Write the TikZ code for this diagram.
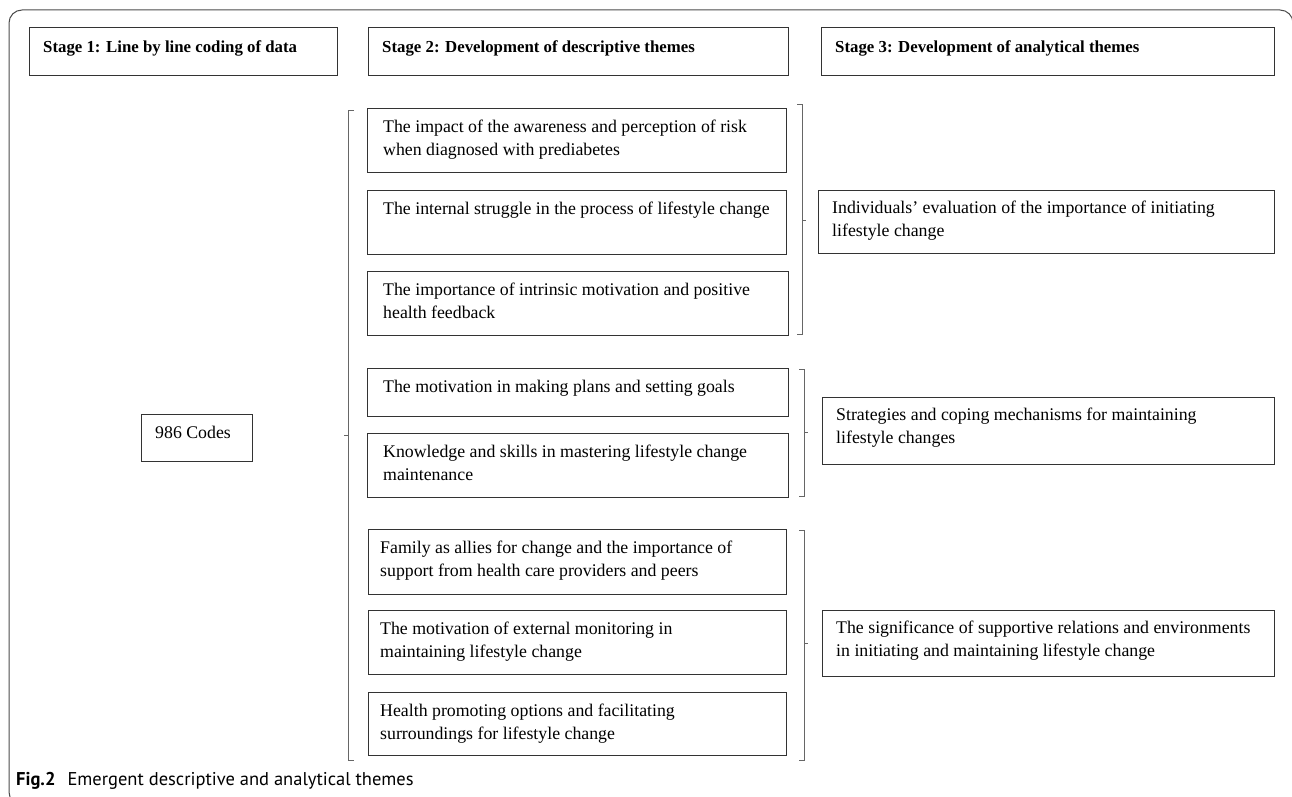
\documentclass[tikz,border=0pt]{standalone}
\usepackage{fontspec}
\setmainfont{Liberation Serif}
\newfontfamily\capfont{PT Sans}
\begin{document}
\begin{tikzpicture}[x=1pt,y=-1pt,
  box/.style={draw=black!80, line width=1.1pt, anchor=north west, inner sep=0pt},
  txt/.style={anchor=north west, inner sep=0pt, align=left, font=\fontsize{17.8}{22.5}\selectfont},
  head/.style={anchor=north west, inner sep=0pt, align=left, font=\fontsize{16.8}{20}\selectfont\bfseries},
  brk/.style={draw=black!60, line width=1pt},
  frame/.style={draw=black!70, line width=1pt, rounded corners=13pt}]
\useasboundingbox (0,0) rectangle (1292,797);
% outer frame
\draw[frame] (40,805) -- (9,805) -- (9,10) -- (1293,10) -- (1293,40);
% headers
\node[box, minimum width=308, minimum height=48] (h1) at (29,27) {};
\node[head] (h1t) at ([xshift=14pt,yshift=-13pt]h1.north west) {Stage 1: Line by line coding of data};
\node[box, minimum width=420, minimum height=48] (h2) at (368,27) {};
\node[head] (h2t) at ([xshift=14pt,yshift=-13pt]h2.north west) {Stage 2: Development of descriptive themes};
\node[box, minimum width=453, minimum height=48] (h3) at (821,27) {};
\node[head] (h3t) at ([xshift=14pt,yshift=-13pt]h3.north west) {Stage 3: Development of analytical themes};
% stage 1
\node[box, minimum width=111, minimum height=47] (c) at (141,414) {};
\node[txt] (ct) at ([xshift=14pt,yshift=-12pt]c.north west) {986 Codes};
% stage 2
\node[box, minimum width=419, minimum height=64] (b1) at (367,108) {};
\node[txt] (b1t) at ([xshift=16pt,yshift=-12pt]b1.north west) {The impact of the awareness and perception of risk\\when diagnosed with prediabetes};
\node[box, minimum width=419, minimum height=64] (b2) at (367,190) {};
\node[txt] (b2t) at ([xshift=16pt,yshift=-12pt]b2.north west) {The internal struggle in the process of lifestyle change};
\node[box, minimum width=421, minimum height=64] (b3) at (367,271) {};
\node[txt] (b3t) at ([xshift=16pt,yshift=-12pt]b3.north west) {The importance of intrinsic motivation and positive\\health feedback};
\node[box, minimum width=421, minimum height=48] (b4) at (367,368) {};
\node[txt] (b4t) at ([xshift=16pt,yshift=-12pt]b4.north west) {The motivation in making plans and setting goals};
\node[box, minimum width=421, minimum height=64] (b5) at (367,433) {};
\node[txt] (b5t) at ([xshift=16pt,yshift=-12pt]b5.north west) {Knowledge and skills in mastering lifestyle change\\maintenance};
\node[box, minimum width=418, minimum height=65] (b6) at (368,529) {};
\node[txt] (b6t) at ([xshift=12pt,yshift=-12pt]b6.north west) {Family as allies for change and the importance of\\support from health care providers and peers};
\node[box, minimum width=418, minimum height=64] (b7) at (368,610) {};
\node[txt] (b7t) at ([xshift=12pt,yshift=-12pt]b7.north west) {The motivation of external monitoring in\\maintaining lifestyle change};
\node[box, minimum width=418, minimum height=63] (b8) at (368,692) {};
\node[txt] (b8t) at ([xshift=12pt,yshift=-12pt]b8.north west) {Health promoting options and facilitating\\surroundings for lifestyle change};
% stage 3
\node[box, minimum width=456, minimum height=63] (a) at (818,190) {};
\node[txt] (at) at ([xshift=14pt,yshift=-11pt]a.north west) {Individuals’ evaluation of the importance of initiating\\lifestyle change};
\node[box, minimum width=452, minimum height=67] (s) at (822,397) {};
\node[txt] (st) at ([xshift=14pt,yshift=-11pt]s.north west) {Strategies and coping mechanisms for maintaining\\lifestyle changes};
\node[box, minimum width=452, minimum height=66] (r) at (822,610) {};
\node[txt] (rt) at ([xshift=14pt,yshift=-11pt]r.north west) {The significance of supportive relations and environments\\in initiating and maintaining lifestyle change};
% brackets
\draw[brk] (354,111) -- (348,111) -- (348,760) -- (354,760);
\draw[brk] (348,435) -- (344,435);
\draw[brk] (797,105) -- (802,105) -- (802,334) -- (797,334);
\draw[brk] (802,220) -- (806,220);
\draw[brk] (799,369) -- (804,369) -- (804,496) -- (799,496);
\draw[brk] (804,432) -- (808,432);
\draw[brk] (799,530) -- (804,530) -- (804,760) -- (799,760);
\draw[brk] (804,643) -- (808,643);
% caption
\node[anchor=base west, inner sep=0pt, font=\capfont\fontsize{18.5}{20}\selectfont] (cap) at (16,785) {\textbf{Fig.2}\hspace{12pt}Emergent descriptive and analytical themes};
\end{tikzpicture}
\end{document}
